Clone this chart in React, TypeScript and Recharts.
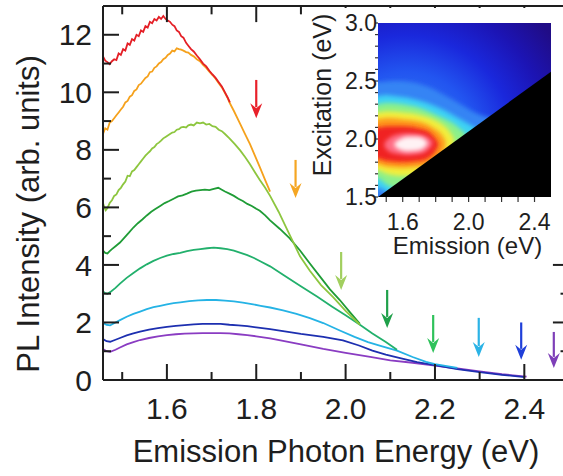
import React from 'react';
import { LineChart, ComposedChart, Line, Area, XAxis, YAxis, ReferenceLine, ReferenceArea } from 'recharts';

const FONT = '"Liberation Sans", Arial, Helvetica, sans-serif';
const INK = '#1e1e1e';

// ---------- main chart axes ----------
const xDomain: [number, number] = [1.457, 2.5];
const yDomain: [number, number] = [0, 13];
const xMajorTicks = [1.6, 1.8, 2.0, 2.2, 2.4];
const xMinorTicks = [1.5, 1.7, 1.9, 2.1, 2.3];
const yMajorTicks = [0, 2, 4, 6, 8, 10, 12];
const yMinorTicks = [1, 3, 5, 7, 9, 11];

// ---------- PL spectra: [emission energy (eV), intensity] ----------
const redSpectrum: [number, number][] = [
  [1.457, 11.25], [1.462, 11.1], [1.467, 11.05], [1.472, 10.98], [1.477, 11.08], [1.482, 11.15], [1.487, 11.12],
  [1.492, 11.35], [1.497, 11.3], [1.502, 11.5], [1.507, 11.45], [1.512, 11.7], [1.517, 11.65], [1.522, 11.85],
  [1.527, 11.8], [1.532, 12.0], [1.537, 11.95], [1.542, 12.15], [1.547, 12.1], [1.552, 12.3], [1.557, 12.25],
  [1.562, 12.45], [1.567, 12.4], [1.572, 12.55], [1.577, 12.5], [1.582, 12.62], [1.587, 12.55], [1.592, 12.65],
  [1.597, 12.55], [1.602, 12.5], [1.607, 12.45], [1.612, 12.35], [1.617, 12.3], [1.622, 12.15], [1.627, 12.1],
  [1.632, 11.95], [1.637, 11.9], [1.643, 11.72], [1.648, 11.62], [1.654, 11.5], [1.66, 11.42], [1.667, 11.28],
  [1.674, 11.15], [1.681, 11.0], [1.688, 10.9], [1.695, 10.75], [1.702, 10.62], [1.709, 10.5], [1.716, 10.35],
  [1.723, 10.2], [1.73, 10.0], [1.736, 9.82], [1.741, 9.65],
];
const orangeSpectrum: [number, number][] = [
  [1.457, 8.55], [1.462, 8.75], [1.467, 8.7], [1.472, 8.95], [1.477, 9.0], [1.482, 9.1], [1.487, 9.2],
  [1.492, 9.3], [1.497, 9.4], [1.502, 9.5], [1.507, 9.65], [1.512, 9.7], [1.517, 9.85], [1.522, 9.9],
  [1.527, 10.05], [1.532, 10.1], [1.537, 10.25], [1.542, 10.3], [1.547, 10.4], [1.552, 10.5], [1.557, 10.55],
  [1.562, 10.7], [1.567, 10.72], [1.572, 10.85], [1.577, 10.9], [1.582, 11.0], [1.587, 11.05], [1.592, 11.15],
  [1.597, 11.2], [1.602, 11.3], [1.607, 11.35], [1.612, 11.45], [1.617, 11.42], [1.622, 11.53], [1.627, 11.5],
  [1.632, 11.48], [1.637, 11.45], [1.643, 11.4], [1.648, 11.38], [1.654, 11.3], [1.66, 11.25], [1.667, 11.15],
  [1.674, 11.08], [1.681, 10.95], [1.688, 10.85], [1.695, 10.72], [1.702, 10.6], [1.709, 10.47], [1.716, 10.32],
  [1.723, 10.17], [1.73, 9.97], [1.736, 9.8], [1.741, 9.62], [1.75, 9.35], [1.764, 8.9], [1.775, 8.55],
  [1.786, 8.2], [1.797, 7.8], [1.808, 7.4], [1.82, 6.95], [1.831, 6.55],
];
const limeSpectrum: [number, number][] = [
  [1.457, 6.15], [1.46, 6.0], [1.463, 5.9], [1.467, 5.98], [1.472, 6.15], [1.477, 6.25], [1.482, 6.4],
  [1.487, 6.45], [1.492, 6.6], [1.497, 6.68], [1.502, 6.8], [1.507, 6.9], [1.512, 7.1], [1.517, 7.08],
  [1.522, 7.25], [1.527, 7.3], [1.532, 7.4], [1.537, 7.5], [1.542, 7.6], [1.547, 7.7], [1.552, 7.8],
  [1.557, 7.88], [1.562, 7.95], [1.567, 8.05], [1.572, 8.1], [1.577, 8.2], [1.582, 8.25], [1.587, 8.32],
  [1.592, 8.4], [1.597, 8.45], [1.602, 8.5], [1.607, 8.55], [1.612, 8.6], [1.617, 8.62], [1.622, 8.7],
  [1.627, 8.72], [1.632, 8.78], [1.637, 8.8], [1.643, 8.78], [1.648, 8.85], [1.654, 8.88], [1.66, 8.85],
  [1.667, 8.95], [1.674, 8.92], [1.681, 8.95], [1.688, 8.88], [1.695, 8.9], [1.702, 8.82], [1.709, 8.8],
  [1.716, 8.7], [1.723, 8.65], [1.73, 8.55], [1.74, 8.4], [1.752, 8.2], [1.764, 7.98], [1.775, 7.75],
  [1.786, 7.5], [1.797, 7.22], [1.808, 6.95], [1.82, 6.68], [1.831, 6.4], [1.85, 5.85], [1.87, 5.2],
  [1.898, 4.3], [1.92, 3.8], [1.945, 3.3], [1.972, 2.88], [2.0, 2.4], [2.032, 1.92],
];
const greenSpectrum: [number, number][] = [
  [1.457, 4.5], [1.462, 4.42], [1.467, 4.4], [1.472, 4.48], [1.477, 4.55], [1.485, 4.65], [1.495, 4.78],
  [1.505, 4.95], [1.515, 5.12], [1.525, 5.3], [1.535, 5.45], [1.545, 5.58], [1.555, 5.72], [1.565, 5.85],
  [1.575, 5.95], [1.585, 6.05], [1.595, 6.15], [1.605, 6.22], [1.615, 6.3], [1.625, 6.38], [1.635, 6.42],
  [1.645, 6.48], [1.655, 6.55], [1.665, 6.58], [1.675, 6.6], [1.685, 6.62], [1.695, 6.6], [1.705, 6.64],
  [1.715, 6.68], [1.722, 6.62], [1.73, 6.55], [1.74, 6.48], [1.75, 6.4], [1.76, 6.3], [1.77, 6.22],
  [1.78, 6.12], [1.79, 6.05], [1.8, 5.95], [1.808, 5.88], [1.82, 5.72], [1.831, 5.55], [1.853, 5.25],
  [1.875, 4.92], [1.898, 4.5], [1.92, 4.05], [1.945, 3.55], [1.965, 3.15], [1.987, 2.78], [2.01, 2.35],
  [2.032, 1.95],
];
const tealSpectrum: [number, number][] = [
  [1.457, 3.08], [1.462, 3.02], [1.467, 3.0], [1.475, 3.08], [1.485, 3.2], [1.495, 3.35], [1.51, 3.55],
  [1.525, 3.72], [1.54, 3.88], [1.555, 4.02], [1.57, 4.14], [1.585, 4.24], [1.6, 4.32], [1.615, 4.38],
  [1.63, 4.42], [1.645, 4.48], [1.66, 4.52], [1.675, 4.55], [1.69, 4.58], [1.705, 4.6], [1.72, 4.58],
  [1.735, 4.55], [1.75, 4.5], [1.765, 4.42], [1.78, 4.34], [1.795, 4.24], [1.81, 4.12], [1.831, 3.95],
  [1.86, 3.66], [1.898, 3.28], [1.936, 2.9], [1.97, 2.55], [2.0, 2.25], [2.032, 1.92], [2.06, 1.62],
  [2.09, 1.32], [2.115, 1.05],
];
const cyanSpectrum: [number, number][] = [
  [1.457, 1.98], [1.465, 1.92], [1.473, 1.9], [1.485, 2.0], [1.495, 2.08], [1.51, 2.2], [1.525, 2.3],
  [1.54, 2.38], [1.555, 2.46], [1.57, 2.53], [1.585, 2.58], [1.6, 2.63], [1.615, 2.67], [1.63, 2.7],
  [1.65, 2.74], [1.67, 2.77], [1.69, 2.78], [1.71, 2.78], [1.73, 2.76], [1.75, 2.73], [1.77, 2.69],
  [1.79, 2.64], [1.81, 2.58], [1.831, 2.52], [1.86, 2.42], [1.89, 2.3], [1.92, 2.15], [1.95, 1.98],
  [1.987, 1.72], [2.02, 1.5], [2.05, 1.32], [2.08, 1.18], [2.115, 1.02], [2.15, 0.8], [2.18, 0.63],
  [2.2, 0.55], [2.25, 0.42],
];
const blueSpectrum: [number, number][] = [
  [1.457, 1.42], [1.465, 1.35], [1.473, 1.33], [1.485, 1.4], [1.495, 1.46], [1.51, 1.55], [1.525, 1.62],
  [1.54, 1.68], [1.56, 1.75], [1.58, 1.8], [1.6, 1.85], [1.62, 1.88], [1.64, 1.91], [1.66, 1.93],
  [1.68, 1.95], [1.7, 1.95], [1.72, 1.95], [1.74, 1.92], [1.76, 1.9], [1.78, 1.87], [1.8, 1.83],
  [1.831, 1.77], [1.86, 1.7], [1.9, 1.6], [1.95, 1.5], [1.994, 1.38], [2.03, 1.2], [2.06, 1.02],
  [2.09, 0.88], [2.122, 0.76], [2.16, 0.62], [2.2, 0.52], [2.25, 0.38], [2.3, 0.27], [2.35, 0.18],
  [2.401, 0.1],
];
const purpleSpectrum: [number, number][] = [
  [1.457, 1.08], [1.465, 1.0], [1.473, 0.98], [1.485, 1.05], [1.495, 1.13], [1.51, 1.24], [1.525, 1.32],
  [1.54, 1.39], [1.56, 1.46], [1.58, 1.52], [1.6, 1.56], [1.62, 1.59], [1.64, 1.61], [1.66, 1.62],
  [1.68, 1.63], [1.7, 1.63], [1.72, 1.63], [1.74, 1.62], [1.76, 1.59], [1.78, 1.56], [1.8, 1.52],
  [1.831, 1.45], [1.86, 1.36], [1.9, 1.24], [1.95, 1.08], [2.0, 0.94], [2.055, 0.8], [2.1, 0.68],
  [2.15, 0.6], [2.2, 0.5], [2.25, 0.4], [2.3, 0.3], [2.35, 0.2], [2.405, 0.12],
];

const seriesNames = ['purple', 'blue', 'cyan', 'teal', 'green', 'lime', 'orange', 'red'];
const seriesColors = ['#8a3cc2', '#1d2fb0', '#25b3e5', '#22b06c', '#1f9c36', '#8dc63f', '#f5a11c', '#e41f26'];
const seriesData = [purpleSpectrum, blueSpectrum, cyanSpectrum, tealSpectrum, greenSpectrum, limeSpectrum, orangeSpectrum, redSpectrum];

// ---------- excitation arrows ----------
const arrowEnergy = [1.8, 1.888, 1.99, 2.093, 2.196, 2.298, 2.393, 2.466];
const arrowFrom = [10.43, 7.65, 4.45, 3.13, 2.26, 2.16, 2.0, 1.67];
const arrowTo = [9.1, 6.33, 3.13, 1.81, 0.94, 0.8, 0.7, 0.42];
const arrowColors = ['#e8202a', '#f5a623', '#a2cf5f', '#1fa04a', '#2fc25b', '#2bb3e6', '#1f3fd9', '#7e3fb8'];

// ---------- inset (PLE map) ----------
const insetXDomain: [number, number] = [1.45, 2.5];
const insetYDomain: [number, number] = [1.5, 3.0];
const insetXTicks = [1.5, 1.6, 1.7, 1.8, 1.9, 2.0, 2.1, 2.2, 2.3, 2.4];
const insetXLabels = [1.6, 2.0, 2.4];
const insetYTicks = [1.5, 1.6, 1.7, 1.8, 1.9, 2.0, 2.1, 2.2, 2.3, 2.4, 2.5, 2.6, 2.7, 2.8, 2.9, 3.0];
const insetYLabels = [1.5, 2.0, 2.5, 3.0];

// contour bands: [emission, excitation low, excitation high]
const bandLightBlue: [number, number, number][] = [
  [1.43, 1.5, 2.49], [1.45, 1.5, 2.49], [1.55, 1.5, 2.5], [1.65, 1.5, 2.49], [1.75, 1.5, 2.45],
  [1.85, 1.5, 2.38], [1.95, 1.5, 2.3], [2.05, 1.5, 2.22], [2.14, 1.5, 2.18],
];
const bandCyan: [number, number, number][] = [
  [1.43, 1.58, 2.37], [1.45, 1.58, 2.37], [1.5, 1.55, 2.38], [1.55, 1.5, 2.37], [1.65, 1.5, 2.35],
  [1.75, 1.5, 2.31], [1.85, 1.5, 2.25], [1.95, 1.5, 2.17], [2.05, 1.5, 2.09],
];
const bandGreen: [number, number, number][] = [
  [1.43, 1.66, 2.3], [1.45, 1.66, 2.3], [1.5, 1.61, 2.31], [1.6, 1.55, 2.3], [1.7, 1.5, 2.27],
  [1.8, 1.5, 2.21], [1.9, 1.5, 2.14], [1.98, 1.5, 2.05],
];
const bandYellow: [number, number, number][] = [
  [1.43, 1.73, 2.23], [1.45, 1.73, 2.23], [1.5, 1.7, 2.24], [1.6, 1.68, 2.23], [1.7, 1.68, 2.21],
  [1.8, 1.7, 2.16], [1.87, 1.76, 2.09], [1.91, 1.86, 2.01],
];
const bandOrange: [number, number, number][] = [
  [1.43, 1.78, 2.17], [1.45, 1.78, 2.17], [1.5, 1.76, 2.18], [1.6, 1.75, 2.17], [1.7, 1.76, 2.15],
  [1.78, 1.79, 2.1], [1.84, 1.87, 2.03], [1.86, 1.94, 1.98],
];
const bandRed: [number, number, number][] = [
  [1.43, 1.83, 2.1], [1.45, 1.83, 2.1], [1.5, 1.81, 2.11], [1.6, 1.8, 2.11], [1.7, 1.81, 2.09],
  [1.76, 1.84, 2.06], [1.8, 1.9, 2.0], [1.815, 1.94, 1.97],
];
const bandPink: [number, number, number][] = [
  [1.49, 1.93, 1.97], [1.52, 1.89, 2.01], [1.57, 1.87, 2.04], [1.63, 1.86, 2.05], [1.7, 1.87, 2.04],
  [1.75, 1.9, 2.02], [1.78, 1.95, 1.98],
];
const bandWhite: [number, number, number][] = [
  [1.55, 1.94, 1.965], [1.58, 1.91, 1.995], [1.63, 1.895, 2.02], [1.69, 1.9, 2.02], [1.73, 1.925, 2.0],
  [1.75, 1.955, 1.97],
];
const bandList = [bandLightBlue, bandCyan, bandGreen, bandYellow, bandOrange, bandRed, bandPink, bandWhite];
const bandColors = ['#3584f4', '#3cd2f4', '#8cf08a', '#f2ee3e', '#ff9a1e', '#f02424', '#ff6c84', '#fff2f4'];

// region below the excitation = emission cutoff (no data)
const cutoffEmission = [1.45, 2.5];
const cutoffExcitation = [1.5, 2.58];

// tick styling (pixels for axis-drawn ticks, data units for frame lines)
const MAJOR_LEN = 16;
const MINOR_LEN = 8;
const X_LABEL_GAP = 18;
const Y_LABEL_GAP = 11;
const TICK_MAJOR_Y = 0.56;
const TICK_MINOR_Y = 0.29;
const TICK_MAJOR_X = 0.036;
const TICK_MINOR_X = 0.019;

const isIn = (list: number[], v: number) => list.some((t) => Math.abs(t - v) < 1e-6);

const BottomTick = (props: any) => {
  const { x, y, payload } = props;
  const v = Number(payload.value);
  const major = isIn(xMajorTicks, v);
  const len = major ? MAJOR_LEN : MINOR_LEN;
  const px = Number(x);
  const py = Number(y);
  return (
    <g>
      <rect x={px - 1} y={py - X_LABEL_GAP - len} width={2} height={len} fill={INK} />
      {major && (
        <text x={px} y={py} dy="0.71em" textAnchor="middle" fontSize={30} fontFamily={FONT} fill={INK}>
          {v.toFixed(1)}
        </text>
      )}
    </g>
  );
};

const LeftTick = (props: any) => {
  const { x, y, payload } = props;
  const v = Number(payload.value);
  const major = isIn(yMajorTicks, v);
  const len = major ? MAJOR_LEN : MINOR_LEN;
  const px = Number(x);
  const py = Number(y);
  return (
    <g>
      <rect x={px + Y_LABEL_GAP} y={py - 1} width={len} height={2} fill={INK} />
      {major && (
        <text x={px} y={py} dy="0.355em" textAnchor="end" fontSize={30} fontFamily={FONT} fill={INK}>
          {String(v)}
        </text>
      )}
    </g>
  );
};

type Seg = { key: string; pts: { x: number; y: number }[] };

function buildFrame(): Seg[] {
  const [xMin, xMax] = xDomain;
  const yMax = yDomain[1];
  const segs: Seg[] = [];
  segs.push({ key: 'top', pts: [{ x: xMin, y: yMax }, { x: xMax, y: yMax }] });
  segs.push({ key: 'right', pts: [{ x: xMax, y: 0 }, { x: xMax, y: yMax }] });
  xMajorTicks.forEach((t) => segs.push({ key: `t${t}`, pts: [{ x: t, y: yMax }, { x: t, y: yMax - TICK_MAJOR_Y }] }));
  xMinorTicks.forEach((t) => segs.push({ key: `t${t}`, pts: [{ x: t, y: yMax }, { x: t, y: yMax - TICK_MINOR_Y }] }));
  yMajorTicks.forEach((t) => segs.push({ key: `r${t}`, pts: [{ x: xMax, y: t }, { x: xMax - TICK_MAJOR_X, y: t }] }));
  yMinorTicks.forEach((t) => segs.push({ key: `r${t}`, pts: [{ x: xMax, y: t }, { x: xMax - TICK_MINOR_X, y: t }] }));
  return segs;
}

const arrowShape = (color: string) => (p: any) => {
  const { x1, y1, x2, y2 } = p;
  const head = 15;
  const half = 6;
  return (
    <g>
      <line x1={x1} y1={y1} x2={x2} y2={y2 - head + 4} stroke={color} strokeWidth={2.2} />
      <polygon
        points={`${x2},${y2} ${x2 - half},${y2 - head} ${x2},${y2 - head + 5} ${x2 + half},${y2 - head}`}
        fill={color}
      />
    </g>
  );
};

function MainChart() {
  const allX = [...xMinorTicks, ...xMajorTicks].sort((a, b) => a - b);
  const allY = [...yMinorTicks, ...yMajorTicks].sort((a, b) => a - b);
  const frame = buildFrame();
  return (
    <LineChart width={575} height={476} margin={{ top: 6, right: 6, left: 0, bottom: 0 }}>
      <XAxis
        type="number"
        dataKey="x"
        domain={xDomain}
        ticks={allX}
        interval={0}
        tickLine={false}
        tickSize={0}
        tickMargin={X_LABEL_GAP}
        height={96}
        axisLine={{ stroke: INK, strokeWidth: 2 }}
        tick={<BottomTick />}
        label={{
          content: (props: any) => {
            const vb = props.viewBox || {};
            return (
              <text x={vb.x + vb.width / 2} y={vb.y + 82} textAnchor="middle" fontSize={31} fontFamily={FONT} fill={INK}>
                Emission Photon Energy (eV)
              </text>
            );
          },
        }}
      />
      <YAxis
        type="number"
        domain={yDomain}
        ticks={allY}
        interval={0}
        tickLine={false}
        tickSize={0}
        tickMargin={Y_LABEL_GAP}
        width={103}
        axisLine={{ stroke: INK, strokeWidth: 2 }}
        tick={<LeftTick />}
        label={{
          content: (props: any) => {
            const vb = props.viewBox || {};
            const cx = vb.x + 28;
            const cy = vb.y + vb.height / 2 + 21;
            return (
              <text
                x={cx}
                y={cy}
                transform={`rotate(-90, ${cx}, ${cy})`}
                textAnchor="middle"
                dominantBaseline="central"
                fontSize={31}
                fontFamily={FONT}
                fill={INK}
              >
                PL Intensity (arb. units)
              </text>
            );
          },
        }}
      />
      {seriesData.map((d, i) => (
        <Line
          key={seriesNames[i]}
          data={d.map(([x, y]) => ({ x, y }))}
          dataKey="y"
          stroke={seriesColors[i]}
          strokeWidth={1.8}
          dot={false}
          isAnimationActive={false}
        />
      ))}
      {frame.map((s) => (
        <Line
          key={s.key}
          data={s.pts}
          dataKey="y"
          stroke={INK}
          strokeWidth={2}
          dot={false}
          isAnimationActive={false}
        />
      ))}
      {arrowEnergy.map((e, i) => (
        <ReferenceLine
          key={`arrow${i}`}
          segment={[{ x: e, y: arrowFrom[i] }, { x: e, y: arrowTo[i] }]}
          stroke={arrowColors[i]}
          ifOverflow="visible"
          shape={arrowShape(arrowColors[i])}
        />
      ))}
    </LineChart>
  );
}

function InsetChart() {
  const bandData = bandList.map((b) => b.map(([e, lo, hi]) => ({ e, r: [lo, hi] })));
  const cutoffData = cutoffEmission.map((e, i) => ({ e, r: [insetYDomain[0], cutoffExcitation[i]] }));
  return (
    <ComposedChart width={257} height={264} margin={{ top: 15, right: 12, left: 0, bottom: 0 }}>
      <defs>
        <radialGradient id="heatBg" cx="0.16" cy="0.7" r="1.05">
          <stop offset="0" stopColor="#3c8cf6" />
          <stop offset="0.4" stopColor="#2255f0" />
          <stop offset="0.6" stopColor="#1a28dc" />
          <stop offset="0.8" stopColor="#1c14b4" />
          <stop offset="1" stopColor="#200c86" />
        </radialGradient>
        <filter id="heatBlur" x="-30%" y="-30%" width="160%" height="160%">
          <feGaussianBlur stdDeviation="2.2" />
        </filter>
      </defs>
      <XAxis
        type="number"
        dataKey="e"
        domain={insetXDomain}
        ticks={insetXTicks}
        interval={0}
        allowDataOverflow
        axisLine={false}
        tickLine={{ stroke: '#333', strokeWidth: 1.2 }}
        tickSize={5}
        tickMargin={12}
        height={75}
        tick={{ fill: INK, fontSize: 23, fontFamily: FONT }}
        tickFormatter={(v: number) => (isIn(insetXLabels, v) ? v.toFixed(1) : '')}
        label={{
          content: (props: any) => {
            const vb = props.viewBox || {};
            return (
              <text x={vb.x + vb.width / 2 + 3} y={vb.y + 57} textAnchor="middle" fontSize={24} fontFamily={FONT} fill={INK}>
                Emission (eV)
              </text>
            );
          },
        }}
      />
      <YAxis
        type="number"
        domain={insetYDomain}
        ticks={insetYTicks}
        interval={0}
        allowDataOverflow
        axisLine={false}
        tickLine={{ stroke: '#333', strokeWidth: 1.2 }}
        tickSize={3}
        tickMargin={-2}
        width={72}
        tick={{ fill: INK, fontSize: 23, fontFamily: FONT }}
        tickFormatter={(v: number) => (isIn(insetYLabels, v) ? v.toFixed(1) : '')}
        label={{
          content: (props: any) => {
            const vb = props.viewBox || {};
            const cx = vb.x + 16;
            const cy = vb.y + vb.height / 2 - 15;
            return (
              <text
                x={cx}
                y={cy}
                transform={`rotate(-90, ${cx}, ${cy})`}
                textAnchor="middle"
                dominantBaseline="central"
                fontSize={25}
                fontFamily={FONT}
                fill={INK}
              >
                Excitation (eV)
              </text>
            );
          },
        }}
      />
      <ReferenceArea
        x1={insetXDomain[0]}
        x2={insetXDomain[1]}
        y1={insetYDomain[0]}
        y2={insetYDomain[1]}
        fill="url(#heatBg)"
        fillOpacity={1}
        stroke="none"
      />
      {bandData.map((d, i) => (
        <Area
          key={`band${i}`}
          className="heat-band"
          data={d}
          dataKey="r"
          type="monotone"
          fill={bandColors[i]}
          fillOpacity={1}
          stroke="none"
          dot={false}
          isAnimationActive={false}
        />
      ))}
      <Area
        data={cutoffData}
        dataKey="r"
        type="linear"
        fill="#000"
        fillOpacity={1}
        stroke="none"
        dot={false}
        isAnimationActive={false}
      />
    </ComposedChart>
  );
}

export default function App() {
  return (
    <div style={{ position: 'absolute', left: 0, top: 0, width: 563, height: 476, overflow: 'hidden', background: '#fff' }}>
      <style>{`.heat-band .recharts-area-area { filter: url(#heatBlur); }`}</style>
      <div style={{ position: 'absolute', left: 0, top: 0 }}>
        <MainChart />
      </div>
      <div style={{ position: 'absolute', left: 306, top: 8, width: 257, height: 244, background: '#fff' }} />
      <div style={{ position: 'absolute', left: 306, top: 8 }}>
        <InsetChart />
      </div>
    </div>
  );
}
